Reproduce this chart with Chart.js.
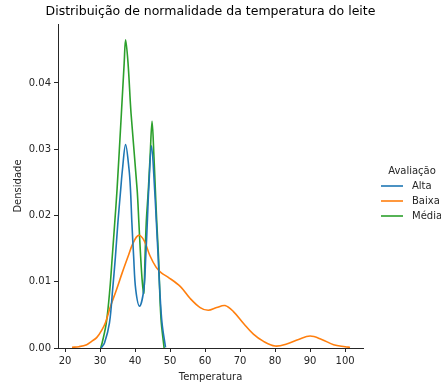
<!DOCTYPE html>
<html>
<head>
<meta charset="utf-8">
<script src="https://cdn.jsdelivr.net/npm/chart.js@4"></script>
<style>
  html, body { margin: 0; padding: 0; background: #fff; overflow: hidden; }
  #wrap { width: 441px; height: 383px; }
</style>
</head>
<body>
<div id="wrap"><canvas id="kde"></canvas></div>
<script>
// curvas de densidade
var altaX = [30.3, 31.3, 32.7, 33.6, 34.4, 35.1, 35.9, 36.4, 37.3, 38.3, 38.7, 39.1, 39.6, 40.2, 41.3, 42.5, 43.06, 43.5, 43.9, 44.7, 45.6, 46.1, 46.6, 47.06, 47.7, 48.7];
var altaY = [0, 0.0008, 0.0038, 0.0088, 0.0138, 0.0189, 0.0239, 0.0269, 0.0307, 0.0269, 0.0239, 0.0189, 0.0138, 0.0088, 0.0063, 0.0088, 0.0138, 0.0189, 0.0239, 0.0305, 0.0239, 0.0189, 0.0138, 0.0088, 0.0038, 0.0001];

var baixaX = [22, 24, 26.2, 27.6, 29.1, 30.5, 31.6, 33, 34.7, 36.3, 38, 39.4, 41, 42.6, 44.2, 46, 47.6, 49.4, 52.9, 55.7, 58.6, 60.9, 63.3, 65.7, 68.1, 71, 73.8, 76.7, 80, 83.3, 86.7, 90, 93.3, 96.7, 100, 101.4];
var baixaY = [0.0001, 0.0002, 0.0005, 0.001, 0.0016, 0.0027, 0.0039, 0.0063, 0.0088, 0.0113, 0.0138, 0.0158, 0.017, 0.0162, 0.014, 0.0122, 0.0113, 0.0107, 0.0093, 0.0075, 0.0061, 0.0057, 0.0061, 0.0064, 0.0055, 0.0037, 0.0021, 0.001, 0.0003, 0.0006, 0.0013, 0.0018, 0.0013, 0.0005, 0.0002, 0.0001];

var mediaX = [30.2, 30.6, 31.8, 32.8, 33.5, 34.2, 34.86, 36.1, 36.9, 37.3, 38.0, 38.86, 40.6, 41.1, 41.6, 42.1, 42.5, 42.86, 43.2, 43.8, 44.3, 44.86, 45.4, 45.8, 46.2, 46.7, 47.4, 48.3];
var mediaY = [0, 0.00075, 0.0038, 0.0088, 0.0138, 0.0189, 0.0239, 0.0354, 0.043, 0.0465, 0.043, 0.0354, 0.0239, 0.0189, 0.0138, 0.0098, 0.0083, 0.0138, 0.0189, 0.0239, 0.0289, 0.0342, 0.0289, 0.0239, 0.019, 0.0138, 0.0045, 0];

var categorias = ["Alta", "Baixa", "Média"];
var cores = ["#1f77b4", "#ff7f0e", "#2ca02c"];
var xTicks = [20, 30, 40, 50, 60, 70, 80, 90, 100];
var yTicks = [0, 0.01, 0.02, 0.03, 0.04];
var titulo = 'Distribuição de normalidade da temperatura do leite';

function pontos(xs, ys) {
    var out = [];
    xs.forEach(function(x, i) { out.push({x: x, y: ys[i]}); });
    return out;
}

var series = [pontos(altaX, altaY), pontos(baixaX, baixaY), pontos(mediaX, mediaY)];
var datasets = categorias.map(function(c, i) {
    return {
        label: c,
        data: series[i],
        borderColor: cores[i],
        borderWidth: 1.6,
        pointRadius: 0,
        fill: false,
        tension: 0.35
    };
});

// titulo e legenda no estilo seaborn
var extrasSeaborn = {
    id: 'extrasSeaborn',
    afterDraw: function(chart) {
        var ctx = chart.ctx;
        var area = chart.chartArea;
        ctx.save();
        ctx.font = '12.5px "DejaVu Sans"';
        ctx.fillStyle = '#000';
        ctx.textAlign = 'center';
        ctx.textBaseline = 'middle';
        ctx.fillText(titulo, (area.left + area.right) / 2, 12);

        ctx.font = '10px "DejaVu Sans"';
        ctx.fillStyle = '#262626';
        ctx.fillText('Avaliação', 412, 171);
        ctx.textAlign = 'left';
        chart.data.datasets.forEach(function(ds, i) {
            var y = 186 + i * 15;
            ctx.strokeStyle = ds.borderColor;
            ctx.lineWidth = 1.6;
            ctx.beginPath();
            ctx.moveTo(381, y);
            ctx.lineTo(403, y);
            ctx.stroke();
            ctx.fillStyle = '#262626';
            ctx.fillText(ds.label, 412, y);
        });
        ctx.restore();
    }
};

Chart.defaults.font.family = '"DejaVu Sans", sans-serif';
Chart.defaults.color = '#262626';

new Chart(document.getElementById('kde'), {
    type: 'line',
    data: { datasets: datasets },
    options: {
        responsive: true,
        maintainAspectRatio: false,
        animation: false,
        layout: { padding: { left: 0, right: 78, top: 24, bottom: 0 } },
        plugins: {
            legend: { display: false },
            tooltip: { enabled: false },
            title: { display: false }
        },
        scales: {
            x: {
                type: 'linear',
                min: 18,
                max: 105.1,
                afterBuildTicks: function(scale) {
                    scale.ticks = xTicks.map(function(v) { return {value: v}; });
                },
                afterFit: function(scale) { scale.height = 35; },
                grid: { drawOnChartArea: false, drawTicks: true, tickLength: 4, color: '#262626' },
                border: { display: true, color: '#262626', width: 1 },
                ticks: { font: { size: 10 }, padding: 3, maxRotation: 0 },
                title: { display: true, text: 'Temperatura', font: { size: 10 }, padding: { top: 0, bottom: 0 } }
            },
            y: {
                type: 'linear',
                min: 0,
                max: 0.0489,
                afterBuildTicks: function(scale) {
                    scale.ticks = yTicks.map(function(v) { return {value: v}; });
                },
                afterFit: function(scale) { scale.width = 58; },
                grid: { drawOnChartArea: false, drawTicks: true, tickLength: 4, color: '#262626' },
                border: { display: true, color: '#262626', width: 1 },
                ticks: {
                    font: { size: 10 },
                    padding: 3,
                    callback: function(v) { return v.toFixed(2); }
                },
                title: { display: true, text: 'Densidade', font: { size: 10 }, padding: { top: 12, bottom: 4 } }
            }
        }
    },
    plugins: [extrasSeaborn]
});
</script>
</body>
</html>
